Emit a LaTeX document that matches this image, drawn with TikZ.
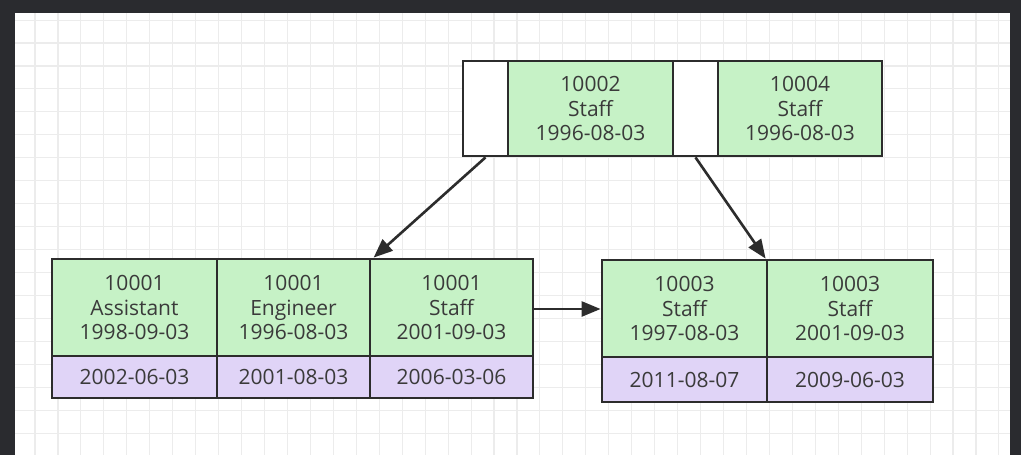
\documentclass[tikz,border=0pt]{standalone}
\usepackage{fontspec}
\setmainfont{Open Sans}
\usetikzlibrary{arrows.meta,calc}
\definecolor{frame}{HTML}{2A2B2F}
\definecolor{gridline}{HTML}{ECECEC}
\definecolor{keygreen}{HTML}{C6F2C6}
\definecolor{verpurple}{HTML}{E0D4F7}
\definecolor{ink}{HTML}{2C2C2C}
\definecolor{txt}{HTML}{3A3A3A}

\begin{document}
\begin{tikzpicture}[x=1pt,y=-1pt,
  cell/.style={draw=ink, line width=2.8pt, rectangle, inner sep=0pt, align=center,
    text=txt, font=\fontsize{21}{24.5}\selectfont},
  keycell/.style={cell, fill=keygreen},
  ptrcell/.style={cell, fill=white, minimum width=45pt, minimum height=95pt},
  vercell/.style={cell, fill=verpurple},
  link/.style={draw=ink, line width=2.6pt, -{Triangle[length=19pt,width=15pt]}}
]
% canvas: dark frame with a white gridded sheet
\fill[frame] (0,0) rectangle (1021,455);
\useasboundingbox (0,0) rectangle (1021,455);
\fill[white] (15,13) rectangle (1010,455);
\begin{scope}
  \clip (15,13) rectangle (1010,455);
  \foreach \i in {0,...,42} {
    \draw[gridline, line width=1.1pt] ({35+22.95*\i},13) -- ({35+22.95*\i},455);
  }
  \foreach \j in {-1,...,18} {
    \draw[gridline, line width=1.1pt] (15,{43+22.95*\j}) -- (1010,{43+22.95*\j});
  }
\end{scope}

% root page
\node[ptrcell] (w1) at (485.5,108.5) {};
\node[keycell, minimum width=165pt, minimum height=95pt] (k1) at (590.5,108.5) {10002\\Staff\\1996-08-03};
\node[ptrcell] (w2) at (695.5,108.5) {};
\node[keycell, minimum width=164pt, minimum height=95pt] (k2) at (800,108.5) {10004\\Staff\\1996-08-03};

% left leaf page
\node[keycell, minimum width=165pt, minimum height=97pt] (l1) at (134.5,307.5) {10001\\Assistant\\1998-09-03};
\node[keycell, minimum width=153pt, minimum height=97pt] (l2) at (293.5,307.5) {10001\\Engineer\\1996-08-03};
\node[keycell, minimum width=163pt, minimum height=97pt] (l3) at (451.5,307.5) {10001\\Staff\\2001-09-03};
\node[vercell, minimum width=165pt, minimum height=42pt] (lv1) at (134.5,377) {2002-06-03};
\node[vercell, minimum width=153pt, minimum height=42pt] (lv2) at (293.5,377) {2001-08-03};
\node[vercell, minimum width=163pt, minimum height=42pt] (lv3) at (451.5,377) {2006-03-06};

% right leaf page
\node[keycell, minimum width=165pt, minimum height=97pt] (r1) at (684.5,308.5) {10003\\Staff\\1997-08-03};
\node[keycell, minimum width=166pt, minimum height=97pt] (r2) at (850,308.5) {10003\\Staff\\2001-09-03};
\node[vercell, minimum width=165pt, minimum height=45pt] (rv1) at (684.5,379.5) {2011-08-07};
\node[vercell, minimum width=166pt, minimum height=45pt] (rv2) at (850,379.5) {2009-06-03};

% pointers
\draw[link] (w1.south) -- ($(l3.north west)+(5,0)$);
\draw[link] (w2.south) -- (r2.north west);
\draw[link] ($(l3.east)+(0,1.5)$) -- ($(l3.east -| r1.west)+(0,1.5)$);
\end{tikzpicture}
\end{document}
